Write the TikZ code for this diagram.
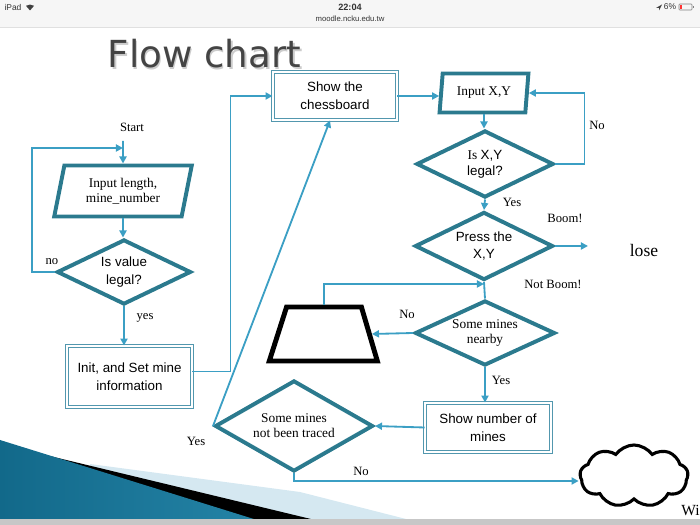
\documentclass[tikz,border=0pt]{standalone}
\usepackage{fontspec}
\setmainfont{Liberation Serif}
\setsansfont{Liberation Sans}
\newfontfamily\titlefont{DejaVu Sans}
\usetikzlibrary{positioning, arrows.meta, shapes.geometric, shapes.symbols, calc}

\definecolor{darkteal}{HTML}{2B7A8E}
\definecolor{lineteal}{HTML}{3B9FC4}
\definecolor{boxteal}{HTML}{5297AE}
\definecolor{titlegray}{HTML}{444444}
\definecolor{barfill}{HTML}{F6F6F6}
\definecolor{wedgedark}{HTML}{12698A}
\definecolor{wedgemid}{HTML}{4AACD2}
\definecolor{wedgeend}{HTML}{2483A6}
\definecolor{wedgelight}{HTML}{D5E8F1}

\begin{document}
\begin{tikzpicture}[x=0.025cm, y=-0.025cm,
  inbox/.style={draw=darkteal, trapezium, trapezium stretches=true, line width=2.8pt,
                inner sep=0pt, align=center, font=\fontsize{9.5}{10.5}\selectfont},
  decide/.style={draw=darkteal, diamond, shape aspect=2, line width=2.8pt,
                 inner sep=0pt, align=center, font=\fontsize{9.5}{10.5}\selectfont},
  proc/.style={draw=boxteal, double=white, double distance=1.3pt, line width=0.6pt,
               inner sep=0pt, align=center, font=\sffamily\fontsize{9.5}{12.5}\selectfont},
  arr/.style={-{Triangle[length=5pt,width=5pt]}, line width=1.3pt, color=lineteal},
  link/.style={line width=1.3pt, color=lineteal},
  lbl/.style={font=\fontsize{9}{10}\selectfont, inner sep=1pt},
  bartext/.style={font=\sffamily\fontsize{6}{7}\selectfont, text=black!80, inner sep=0pt},
]
\useasboundingbox (0,0) rectangle (700,525);

% status bar
\fill[barfill] (0,0) rectangle (700,27);
\draw[black!12, line width=0.5pt] (0,27) -- (700,27);
\node[bartext] (ipad) at (13,7) {iPad};
\fill[black!75] (30,10.5) -- (26,5.8) .. controls (28.3,4.2) and (31.7,4.2) .. (34,5.8) -- cycle;
\node[bartext, font=\sffamily\bfseries\fontsize{6.5}{7}\selectfont] (clock) at (350,7) {22:04};
\node[bartext, font=\sffamily\fontsize{5.5}{6}\selectfont] (url) at (350,19) {moodle.ncku.edu.tw};
\fill[black!75] (656,8) -- (662,4.5) -- (659,10.5) -- (659,8) -- cycle;
\node[bartext] (batt) at (670,7) {6\%};
\draw[black!50, line width=0.4pt, rounded corners=0.5pt] (679,4) rectangle (692,10);
\fill[red!80] (680,5) rectangle (681.8,9);
\fill[black!50] (692.5,6) rectangle (693.5,8);

% slide decoration
\fill[wedgelight] (90,464) -- (300,492) -- (410,520) -- (90,520) -- cycle;
\fill[black] (0,444) -- (315,520) -- (0,520) -- cycle;
\shade[left color=wedgedark, middle color=wedgemid, right color=wedgeend]
  (0,440) -- (257,520) -- (0,520) -- cycle;
\fill[black!22] (0,519) rectangle (700,525);

% title
\node[anchor=base, font=\titlefont\fontsize{26.5}{30}\selectfont, text=black!20] (titleshadow) at (206,69.5) {Flow chart};
\node[anchor=base, font=\titlefont\fontsize{26.5}{30}\selectfont, text=titlegray] (title) at (204.5,68) {Flow chart};

% left column
\node[lbl] (start) at (132,127) {Start};
\coordinate (s0) at (123,141);
\coordinate (j1) at (123,148);
\node[inbox, trapezium left angle=76, trapezium right angle=104,
      minimum width=3.45cm, minimum height=1.275cm] (in1) at (123,191) {Input length,\\mine\_number};
\node[decide, font=\sffamily\fontsize{9.5}{12.5}\selectfont,
      minimum width=3.35cm, minimum height=1.625cm] (val) at (124,272) {Is value\\legal?};
\node[proc, minimum width=3.125cm, minimum height=1.525cm] (init) at (129.5,376.5) {Init, and Set mine\\information};

% middle and right column
\node[proc, minimum width=3.1cm, minimum height=1.2cm] (chess) at (335,96) {Show the\\chessboard};
\node[inbox, trapezium left angle=80, trapezium right angle=100,
      minimum width=2.225cm, minimum height=0.975cm] (inxy) at (484,93) {Input X,Y};
\node[decide, minimum width=3.425cm, minimum height=1.675cm] (xyl) at (485,164)
     {Is {\sffamily X,Y}\\[1pt]{\sffamily legal?}};
\node[decide, font=\sffamily\fontsize{9.5}{12.5}\selectfont,
      minimum width=3.45cm, minimum height=1.7cm] (press) at (484,246) {Press the\\X,Y};
\coordinate (boomend) at (588,246);
\coordinate (j2) at (484,284);
\node[decide, minimum width=3.5cm, minimum height=1.625cm] (near) at (485,333) {Some mines\\nearby};
\node[trapezium, draw=black, line width=3.5pt, trapezium stretches=true,
      trapezium left angle=77, trapezium right angle=78,
      minimum width=2.7cm, minimum height=1.35cm] (trap) at (324,334) {};
\node[proc, minimum width=3.15cm, minimum height=1.225cm] (num) at (488,427.5) {Show number of\\mines};
\node[decide, minimum width=3.95cm, minimum height=2.275cm] (traced) at (294,426) {Some mines\\not been traced};
\node[cloud, draw=black, line width=2.2pt, cloud puffs=9, cloud puff arc=110, cloud ignores aspect,
      minimum width=2.7cm, minimum height=1.55cm] (cloud) at (634,476) {};

% connectors
\draw[arr] (s0) -- (in1.north);
\draw[arr] (val.west) -- ++(-23,0) |- (j1);
\draw[arr] (in1.south) -- (in1.south |- val.north);
\draw[arr] (val.south) -- (val.south |- init.north);
\draw[arr] ($(init.east)+(0,-5)$) -- ++(38,0) |- (chess.west);
\draw[arr] (chess.east) -- (chess.east -| inxy.west);
\draw[arr] (inxy.south) -- (inxy.south |- xyl.north);
\draw[arr] (xyl.east) -- ++(29,0) |- (inxy.east);
\draw[arr] (xyl.south) -- (press.north);
\draw[arr] (press.east) -- (boomend);
\draw[link] (press.south) -- (near.north);
\draw[arr] (trap.north) |- (j2);
\draw[arr] (near.west) -- (trap.east);
\draw[arr] (near.south) -- (near.south |- num.north);
\draw[arr] (num.west) -- (traced.east);
\draw[arr] (traced.west) -- ($(chess.south)+(-5,0)$);
\draw[arr] (traced.south) |- ($(cloud.west)+(0,5)$);

% labels
\node[lbl] (lno1) at (52,262) {no};
\node[lbl] (lyes1) at (145,318) {yes};
\node[lbl] (lno2) at (597,125) {No};
\node[lbl] (lyes2) at (512,202) {Yes};
\node[lbl] (lboom) at (565,218) {Boom!};
\node[lbl, font=\fontsize{12.5}{14}\selectfont] (lose) at (644,250) {lose};
\node[lbl] (lnotboom) at (553,284) {Not Boom!};
\node[lbl] (lno3) at (407,314) {No};
\node[lbl] (lyes3) at (501,380) {Yes};
\node[lbl] (lyes4) at (196,441) {Yes};
\node[lbl] (lno4) at (361,471) {No};
\node[lbl, font=\fontsize{11}{12}\selectfont, anchor=east, inner sep=0pt] (win) at (700,510) {Wi};

\end{tikzpicture}
\end{document}
